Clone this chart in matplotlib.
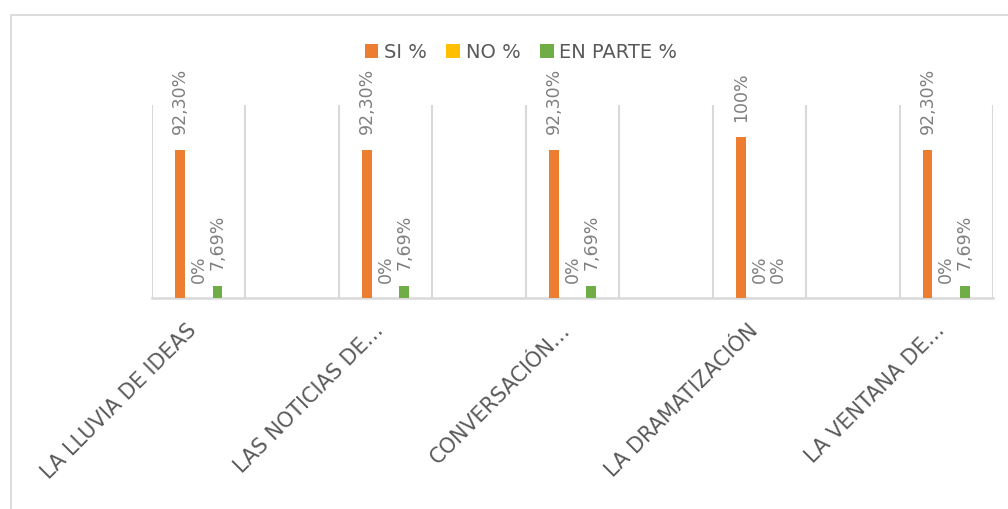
import matplotlib
matplotlib.use("Agg")
import matplotlib.pyplot as plt
from matplotlib.patches import Rectangle
from matplotlib.transforms import ScaledTranslation
import numpy as np

# ---- data ----
categories = ["LA LLUVIA DE IDEAS", "LAS NOTICIAS DE…", "CONVERSACIÓN…",
              "LA DRAMATIZACIÓN", "LA VENTANA DE…"]
series_names = ["SI %", "NO %", "EN PARTE %"]
si_values = [92.30, 92.30, 92.30, 100.0, 92.30]
no_values = [0.0, 0.0, 0.0, 0.0, 0.0]
en_parte_values = [7.69, 7.69, 7.69, 0.0, 7.69]

colors = ["#ED7D31", "#FFC000", "#70AD47"]


def fmt(v):
    if float(v).is_integer():
        return f"{int(v)}%"
    return f"{v:.2f}%".replace(".", ",")


W, H = 1008, 509
fig = plt.figure(figsize=(W / 100, H / 100), dpi=100)
fig.patch.set_facecolor("white")

# chart border (partially outside the picture)
fig.add_artist(Rectangle((11 / W, -0.5), 2.0, 1 - 15 / H + 0.5,
                         transform=fig.transFigure, fill=False,
                         edgecolor="#d9d9d9", lw=1.3))

ax = fig.add_axes([152 / W, 1 - 298 / H, (993 - 152) / W, (298 - 105) / H])

x = np.arange(len(categories)) * 2  # each category is followed by an empty slot
offsets = [-0.2, 0.0, 0.2]
bw = 0.105
all_series = [si_values, no_values, en_parte_values]

for vals, off, col, name in zip(all_series, offsets, colors, series_names):
    bars = ax.bar(x + off, vals, width=bw, color=col, label=name, zorder=3)
    for b, v in zip(bars, vals):
        ax.annotate(fmt(v), xy=(b.get_x() + b.get_width() / 2, v),
                    xytext=(0, 11), textcoords="offset points",
                    rotation=90, ha="center", va="bottom",
                    fontsize=12.5, color="#7f7f7f")

ax.set_xlim(-0.5, 2 * len(categories) - 1.5)
ax.set_ylim(0, 120)

# vertical gridlines at every slot boundary
for gx in np.arange(-0.5, 2 * len(categories) - 1.0, 1.0):
    ax.axvline(gx, color="#d9d9d9", lw=1.5, zorder=1)

ax.set_yticks([])
for s in ["left", "right", "top"]:
    ax.spines[s].set_visible(False)
ax.spines["bottom"].set_color("#d9d9d9")
ax.spines["bottom"].set_linewidth(1.8)

ax.set_xticks(x)
ax.set_xticklabels(categories, rotation=45, ha="right", va="center",
                   rotation_mode="anchor", fontsize=15, color="#595959")
ax.tick_params(axis="x", length=0, pad=21)
shift = ScaledTranslation(-5 / 100, 0, fig.dpi_scale_trans)
for lab in ax.get_xticklabels():
    lab.set_transform(lab.get_transform() + shift)

leg = fig.legend(loc="center", bbox_to_anchor=(521 / W, 1 - 52 / H), ncol=3,
                 frameon=False, fontsize=14, handlelength=0.7,
                 handleheight=0.7, handletextpad=0.3, columnspacing=1.0)
for t in leg.get_texts():
    t.set_color("#595959")

fig.savefig("out.png", dpi=100, facecolor="white")
